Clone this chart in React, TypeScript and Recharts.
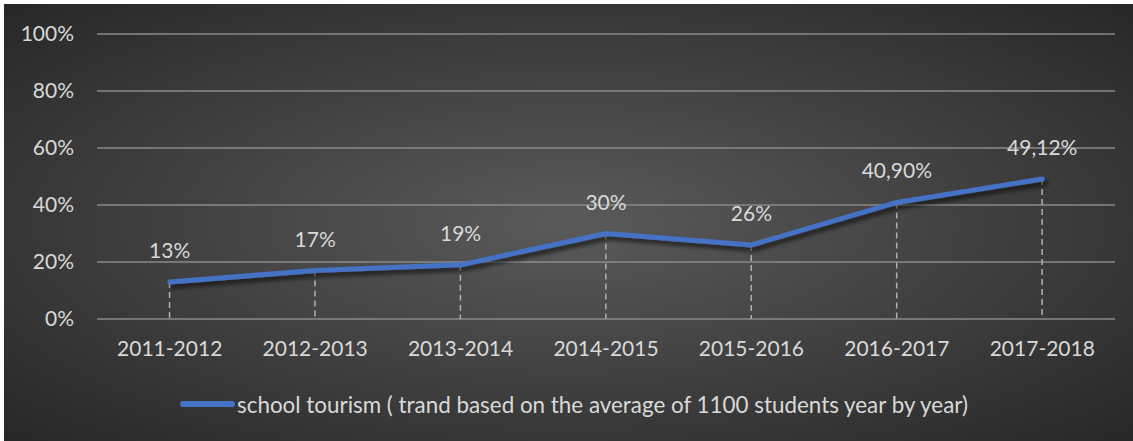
import { Bar, CartesianGrid, ComposedChart, LabelList, Legend, Line, XAxis, YAxis } from "recharts"

const years = ["2011-2012", "2012-2013", "2013-2014", "2014-2015", "2015-2016", "2016-2017", "2017-2018"]
const tourismShare = [13, 17, 19, 30, 26, 40.9, 49.12]
const shareLabels = ["13%", "17%", "19%", "30%", "26%", "40,90%", "49,12%"]
const yTicks = [0, 20, 40, 60, 80, 100]
const seriesName = "school tourism ( trand based on the average of 1100 students year by year)"

const chartData = years.map((year, i) => ({
  year,
  value: tourismShare[i],
  label: shareLabels[i],
}))

const textColor = "#d9d9d9"
const lineColor = "#4472C4"

// dashed drop line from the point down to the axis
function DropLine(props: any) {
  const { x, y, width, height } = props
  const cx = x + width / 2
  return (
    <line x1={cx} x2={cx} y1={y} y2={y + height} stroke="#b0b0b0" strokeWidth={1.5} strokeDasharray="6 4" />
  )
}

function SeriesLegend() {
  return (
    <div style={{ height: 50 }}>
      <div style={{ display: "flex", justifyContent: "center", alignItems: "center", height: 26, paddingLeft: 29 }}>
        <span style={{ display: "inline-block", width: 55, height: 6, borderRadius: 3, background: lineColor, marginRight: 2 }} />
        <span style={{ color: textColor, fontSize: 22.4 }}>{seriesName}</span>
      </div>
    </div>
  )
}

export default function App() {
  return (
    <div style={{ paddingLeft: 4, paddingTop: 4, background: "#fff" }}>
      <style>{`body{margin:0}`}</style>
      <div
        style={{
          width: 1129,
          height: 437,
          position: "relative",
          fontFamily: "Lato, sans-serif",
          background: "radial-gradient(ellipse at 50% 50%, #5a5a5a 0%, #272727 100%)",
        }}
      >
        <ComposedChart width={1129} height={437} data={chartData} margin={{ top: 30, right: 18, left: 0, bottom: 0 }}>
          <defs>
            <filter id="lineShadow" x="-5%" y="-20%" width="110%" height="140%">
              <feDropShadow dx="3" dy="4" stdDeviation="2" floodColor="#000" floodOpacity="0.6" />
            </filter>
          </defs>
          <CartesianGrid vertical={false} stroke="#8a8a8a" strokeWidth={1.5} />
          <XAxis
            dataKey="year"
            axisLine={false}
            tickLine={false}
            tickSize={0}
            tickMargin={22}
            height={72}
            tick={{ fill: textColor, fontSize: 21 }}
          />
          <YAxis
            domain={[0, 100]}
            ticks={yTicks}
            tickFormatter={(v) => `${v}%`}
            axisLine={false}
            tickLine={false}
            tickSize={0}
            tickMargin={23}
            width={93}
            tick={{ fill: textColor, fontSize: 21 }}
          />
          <Legend verticalAlign="bottom" content={<SeriesLegend />} />
          <Bar dataKey="value" shape={<DropLine />} isAnimationActive={false} legendType="none" />
          <Line
            dataKey="value"
            name={seriesName}
            stroke={lineColor}
            strokeWidth={5}
            strokeLinecap="round"
            strokeLinejoin="round"
            dot={false}
            filter="url(#lineShadow)"
            isAnimationActive={false}
          >
            <LabelList dataKey="label" position="top" offset={24} fill={textColor} fontSize={21} />
          </Line>
        </ComposedChart>
      </div>
    </div>
  )
}
